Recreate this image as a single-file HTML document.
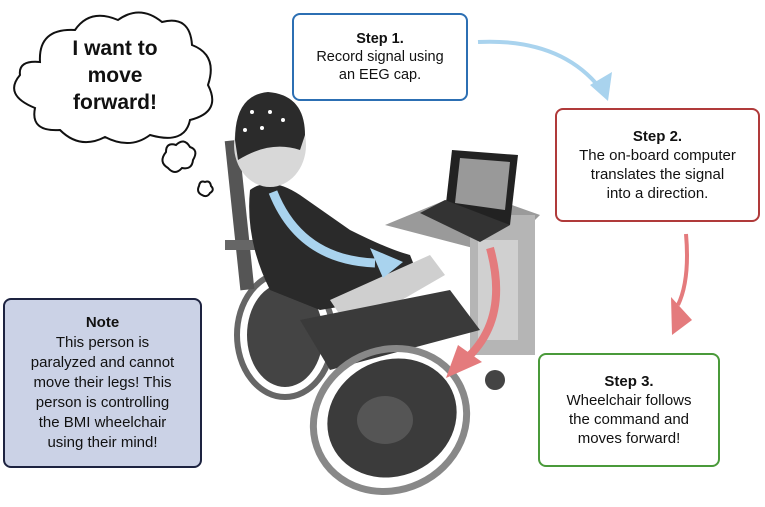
<!DOCTYPE html>
<html><head><style>
html,body{margin:0;padding:0;background:#fff;width:765px;height:507px;overflow:hidden}
body{position:relative;font-family:"Liberation Sans",sans-serif}
.box{position:absolute;box-sizing:border-box;border:2px solid;border-radius:8px;background:#fff;text-align:center;font-size:14.5px;line-height:18px;color:#111;display:flex;flex-direction:column;justify-content:center}
.box b{font-weight:bold}
</style></head><body>
<svg width="765" height="507" style="position:absolute;left:0;top:0">
<g>
<!-- rear left wheel -->
<ellipse cx="285" cy="335" rx="48" ry="62" fill="none" stroke="#666" stroke-width="6"/>
<ellipse cx="285" cy="335" rx="38" ry="52" fill="#444"/>
<!-- table/box -->
<polygon points="385,225 470,190 540,215 500,255" fill="#9a9a9a"/>
<rect x="470" y="215" width="65" height="140" fill="#b5b5b5"/>
<rect x="478" y="240" width="40" height="100" fill="#d0d0d0"/>
<!-- laptop -->
<polygon points="452,150 518,155 510,225 445,212" fill="#222"/>
<polygon points="460,158 510,162 505,210 455,203" fill="#999"/>
<polygon points="420,213 445,200 510,225 480,242" fill="#333"/>
<!-- chair back -->
<rect x="232" y="140" width="14" height="150" fill="#555" transform="rotate(-6 240 210)"/>
<rect x="225" y="240" width="30" height="10" fill="#666"/>
<!-- body -->
<path d="M250,190 Q270,175 300,195 L350,230 Q390,250 410,255 L420,280 L380,300 L320,310 L270,290 Q245,240 250,190Z" fill="#2a2a2a"/>
<!-- legs/arm -->
<path d="M330,300 L430,255 L445,275 L350,330Z" fill="#cfcfcf"/>
<path d="M300,320 L450,290 L480,330 L330,370Z" fill="#3a3a3a"/>
<!-- head -->
<ellipse cx="270" cy="145" rx="36" ry="42" fill="#d8d8d8"/>
<path d="M235,140 Q235,95 268,92 Q305,95 305,135 L300,150 Q270,140 238,160Z" fill="#2b2b2b"/>
<circle cx="252" cy="112" r="2" fill="#fff"/><circle cx="270" cy="112" r="2" fill="#fff"/><circle cx="283" cy="120" r="2" fill="#fff"/><circle cx="262" cy="128" r="2" fill="#fff"/><circle cx="245" cy="130" r="2" fill="#fff"/>
<!-- front big wheel -->
<ellipse cx="390" cy="420" rx="78" ry="70" fill="none" stroke="#888" stroke-width="7" transform="rotate(-25 390 420)"/>
<ellipse cx="392" cy="418" rx="66" ry="58" fill="#3b3b3b" transform="rotate(-25 392 418)"/>
<ellipse cx="385" cy="420" rx="28" ry="24" fill="#555"/>
<circle cx="495" cy="380" r="10" fill="#444"/>
</g>
<!-- thought cloud -->
<path d="M40,62 Q38,28 75,30 Q90,8 118,20 Q140,4 162,22 Q190,15 192,45 Q218,55 208,85 Q222,112 190,120 Q185,145 150,135 Q130,150 105,137 Q80,150 60,130 Q30,132 35,108 Q3,95 20,75 Q18,60 40,62Z" fill="#fff" stroke="#111" stroke-width="2"/>
<path d="M166,152 Q166,142 176,145 Q184,137 190,147 Q199,150 193,160 Q192,170 182,168 Q175,176 168,168 Q158,162 166,152Z" fill="#fff" stroke="#111" stroke-width="2"/>
<path d="M199,186 Q200,180 205,182 Q210,180 211,186 Q215,190 210,193 Q207,198 202,195 Q196,192 199,186Z" fill="#fff" stroke="#111" stroke-width="2"/>
<!-- blue arrow top -->
<path d="M478,42 Q560,38 600,88" fill="none" stroke="#a9d3ee" stroke-width="4"/>
<polygon points="590,85 612,72 608,101" fill="#a9d3ee"/>
<!-- red arrow right -->
<path d="M686,234 Q690,280 678,305" fill="none" stroke="#e47b7d" stroke-width="4"/>
<polygon points="671,297 692,320 672,335" fill="#e47b7d"/>
<!-- blue arrow on body -->
<path d="M273,192 Q300,260 375,263" fill="none" stroke="#a9d3ee" stroke-width="9"/>
<polygon points="370,248 403,262 383,278" fill="#a9d3ee"/>
<!-- red arrow on body -->
<path d="M490,248 Q510,320 465,360" fill="none" stroke="#e47b7d" stroke-width="8"/>
<polygon points="458,345 482,362 446,378" fill="#e47b7d"/>
</svg>
<div style="position:absolute;left:40px;top:35px;width:150px;text-align:center;font-weight:bold;font-size:21px;line-height:27px;color:#111">I want to<br>move<br>forward!</div>
<div class="box" style="left:292px;top:13px;width:176px;height:88px;border-color:#2c6fb3"><b>Step 1.</b>Record signal using<br>an EEG cap.</div>
<div class="box" style="left:555px;top:108px;width:205px;height:114px;border-color:#b03a3a;font-size:15px;line-height:19px"><b>Step 2.</b>The on-board computer<br>translates the signal<br>into a direction.</div>
<div class="box" style="left:538px;top:353px;width:182px;height:114px;border-color:#4a9a3a;font-size:15px;line-height:19px"><b>Step 3.</b>Wheelchair follows<br>the command and<br>moves forward!</div>
<div class="box" style="left:3px;top:298px;width:199px;height:170px;border-color:#1d2340;background:#cbd2e6;font-size:15px;line-height:20px"><b>Note</b>This person is<br>paralyzed and cannot<br>move their legs! This<br>person is controlling<br>the BMI wheelchair<br>using their mind!</div>
</body></html>
